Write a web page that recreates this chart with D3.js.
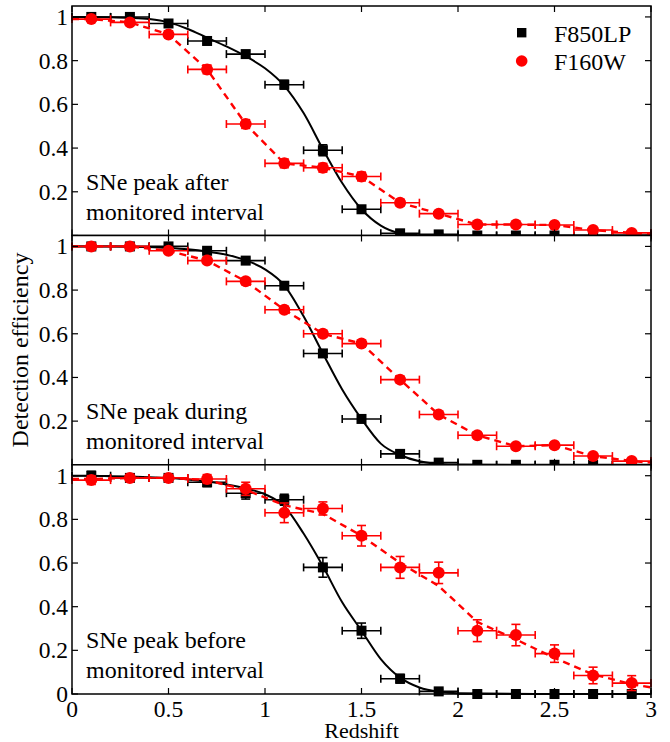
<!DOCTYPE html>
<html>
<head>
<meta charset="utf-8">
<script src="https://cdn.jsdelivr.net/npm/d3@7/dist/d3.min.js"></script>
<style>
  html, body { margin: 0; padding: 0; background: #fff; }
  svg { display: block; }
  svg text { font-family: "Liberation Serif", "Times New Roman", Tinos, serif; fill: #000; }
</style>
</head>
<body>
<div id="chart"></div>
<script>
// ---------------- data ----------------
const redshift = [0.1, 0.3, 0.5, 0.7, 0.9, 1.1, 1.3, 1.5, 1.7, 1.9, 2.1, 2.3, 2.5, 2.7, 2.9];
const binHalfWidth = 0.1;

const panelLabels = [
  ["SNe peak after", "monitored interval"],
  ["SNe peak during", "monitored interval"],
  ["SNe peak before", "monitored interval"]
];
const seriesNames = ["F850LP", "F160W"];

// Panel 1: SNe peak after monitored interval
const f850After    = [1.00, 1.00, 0.97, 0.89, 0.83, 0.69, 0.39, 0.12, 0.01, 0.005, 0, 0, 0, 0, 0];
const f850AfterErr = [0.01, 0.01, 0.012, 0.012, 0.015, 0.02, 0.025, 0.015, 0.01, 0.005, 0.003, 0.003, 0.003, 0.003, 0.003];
const f160After    = [0.99, 0.975, 0.92, 0.76, 0.51, 0.33, 0.31, 0.27, 0.15, 0.10, 0.05, 0.05, 0.048, 0.025, 0.012];
const f160AfterErr = [0.01, 0.012, 0.015, 0.02, 0.02, 0.02, 0.02, 0.02, 0.015, 0.012, 0.01, 0.01, 0.01, 0.008, 0.006];

// Panel 2: SNe peak during monitored interval
const f850During    = [1.00, 1.00, 1.00, 0.98, 0.935, 0.82, 0.51, 0.21, 0.05, 0.01, 0, 0, 0, 0, 0];
const f850DuringErr = [0.005, 0.005, 0.008, 0.01, 0.012, 0.015, 0.015, 0.015, 0.01, 0.005, 0.003, 0.003, 0.003, 0.003, 0.003];
const f160During    = [1.00, 1.00, 0.98, 0.935, 0.84, 0.71, 0.60, 0.555, 0.39, 0.23, 0.135, 0.085, 0.09, 0.04, 0.017];
const f160DuringErr = [0.005, 0.005, 0.01, 0.012, 0.015, 0.015, 0.015, 0.015, 0.015, 0.012, 0.01, 0.01, 0.01, 0.008, 0.006];

// Panel 3: SNe peak before monitored interval
const f850Before    = [1.00, 0.99, 0.99, 0.97, 0.92, 0.89, 0.58, 0.29, 0.07, 0.012, 0, 0, 0, 0, 0];
const f850BeforeErr = [0.02, 0.01, 0.01, 0.02, 0.027, 0.025, 0.045, 0.035, 0.02, 0.01, 0.005, 0.005, 0.005, 0.005, 0.005];
const f160Before    = [0.98, 0.99, 0.99, 0.985, 0.94, 0.83, 0.85, 0.725, 0.58, 0.555, 0.29, 0.27, 0.185, 0.085, 0.05];
const f160BeforeErr = [0.02, 0.015, 0.015, 0.02, 0.03, 0.045, 0.03, 0.047, 0.05, 0.049, 0.05, 0.049, 0.04, 0.038, 0.034];

// Fitted F850LP curves
const fitRedshift = [0, 0.1, 0.2, 0.3, 0.4, 0.5, 0.6, 0.7, 0.8, 0.9, 1.0, 1.1, 1.2, 1.3, 1.4, 1.5, 1.6, 1.7, 1.8, 1.9, 2.0, 2.5, 3.0];
const fit850After  = [1.0, 1.0, 0.999, 0.996, 0.99, 0.975, 0.945, 0.905, 0.865, 0.82, 0.765, 0.685, 0.56, 0.395, 0.24, 0.12, 0.045, 0.01, 0.001, 0, 0, 0, 0];
const fit850During = [1.0, 1.0, 1.0, 0.999, 0.997, 0.993, 0.987, 0.977, 0.962, 0.937, 0.895, 0.822, 0.68, 0.51, 0.345, 0.21, 0.097, 0.045, 0.016, 0.004, 0.001, 0, 0];
const fit850Before = [1.0, 1.0, 0.998, 0.996, 0.993, 0.989, 0.983, 0.973, 0.96, 0.942, 0.915, 0.86, 0.735, 0.585, 0.42, 0.29, 0.16, 0.075, 0.03, 0.01, 0.003, 0, 0];

// Dashed F160W lines
const lineRedshift = [0, 0.1, 0.3, 0.5, 0.7, 0.9, 1.1, 1.3, 1.5, 1.7, 1.9, 2.1, 2.3, 2.5, 2.7, 2.9, 3.0];
const line160After  = [0.99, 0.99, 0.975, 0.92, 0.76, 0.51, 0.33, 0.31, 0.27, 0.15, 0.10, 0.05, 0.05, 0.048, 0.025, 0.012, 0.005];
const line160During = [1.0, 1.0, 1.0, 0.98, 0.935, 0.84, 0.71, 0.60, 0.555, 0.39, 0.23, 0.135, 0.085, 0.09, 0.04, 0.017, 0.01];
const line160Before = [0.985, 0.985, 0.99, 0.99, 0.98, 0.935, 0.865, 0.825, 0.725, 0.60, 0.495, 0.33, 0.25, 0.165, 0.09, 0.045, 0.03];

const xTicks = [0, 0.5, 1, 1.5, 2, 2.5, 3];
const xTickLabels = ["0", "0.5", "1", "1.5", "2", "2.5", "3"];
const yTicks = [0, 0.2, 0.4, 0.6, 0.8, 1.0];
const yTickLabels = ["0", "0.2", "0.4", "0.6", "0.8", "1"];

const panels = [
  { black: f850After,  blackErr: f850AfterErr,  red: f160After,  redErr: f160AfterErr,  fit: fit850After,  line: line160After,  label: panelLabels[0] },
  { black: f850During, blackErr: f850DuringErr, red: f160During, redErr: f160DuringErr, fit: fit850During, line: line160During, label: panelLabels[1] },
  { black: f850Before, blackErr: f850BeforeErr, red: f160Before, redErr: f160BeforeErr, fit: fit850Before, line: line160Before, label: panelLabels[2] }
];

// ---------------- layout ----------------
const W = 670, H = 742;
const left = 72, right = 651;
const panelTops = [6, 235.5, 464.8];
const panelBottoms = [235.5, 464.8, 694];
const TICKFONT = 23.5;
const LABELFONT = 24;

const svg = d3.select("#chart").append("svg").attr("width", W).attr("height", H);
svg.append("rect").attr("width", W).attr("height", H).attr("fill", "#fff");

const x = d3.scaleLinear().domain([0, 3]).range([left, right]);

panels.forEach((p, i) => {
  const y = d3.scaleLinear().domain([0, 1.05]).range([panelBottoms[i], panelTops[i]]);
  const g = svg.append("g");
  g.append("rect").attr("x", left).attr("y", panelTops[i])
    .attr("width", right - left).attr("height", panelBottoms[i] - panelTops[i]).attr("fill", "#fff");

  const drawErr = (vals, errs, color) => {
    const eg = g.append("g").attr("stroke", color).attr("stroke-width", 1.6).attr("fill", "none");
    redshift.forEach((z, k) => {
      const cx = x(z), cy = y(vals[k]);
      const x0 = x(z - binHalfWidth), x1 = x(z + binHalfWidth);
      eg.append("line").attr("x1", x0).attr("x2", x1).attr("y1", cy).attr("y2", cy);
      eg.append("line").attr("x1", x0).attr("x2", x0).attr("y1", cy - 4).attr("y2", cy + 4);
      eg.append("line").attr("x1", x1).attr("x2", x1).attr("y1", cy - 4).attr("y2", cy + 4);
      const yt = y(vals[k] + errs[k]), yb = y(vals[k] - errs[k]);
      eg.append("line").attr("x1", cx).attr("x2", cx).attr("y1", yt).attr("y2", yb);
      eg.append("line").attr("x1", cx - 4.5).attr("x2", cx + 4.5).attr("y1", yt).attr("y2", yt);
      eg.append("line").attr("x1", cx - 4.5).attr("x2", cx + 4.5).attr("y1", yb).attr("y2", yb);
    });
  };

  drawErr(p.black, p.blackErr, "#000");
  g.append("g").selectAll("rect").data(redshift).join("rect")
    .attr("x", z => x(z) - 5).attr("y", (z, k) => y(p.black[k]) - 5)
    .attr("width", 10).attr("height", 10).attr("fill", "#000");

  const fitLine = d3.line().x((d, k) => x(fitRedshift[k])).y(d => y(d)).curve(d3.curveMonotoneX);
  g.append("path").datum(p.fit).attr("d", fitLine)
    .attr("fill", "none").attr("stroke", "#000").attr("stroke-width", 2);

  drawErr(p.red, p.redErr, "#ff0000");
  g.append("g").selectAll("circle").data(redshift).join("circle")
    .attr("cx", z => x(z)).attr("cy", (z, k) => y(p.red[k])).attr("r", 6).attr("fill", "#ff0000");

  const dashLine = d3.line().x((d, k) => x(lineRedshift[k])).y(d => y(d));
  g.append("path").datum(p.line).attr("d", dashLine)
    .attr("fill", "none").attr("stroke", "#ff0000").attr("stroke-width", 2.4)
    .attr("stroke-dasharray", "7,5");

  // Frame
  g.append("rect").attr("x", left).attr("y", panelTops[i])
    .attr("width", right - left).attr("height", panelBottoms[i] - panelTops[i])
    .attr("fill", "none").attr("stroke", "#000").attr("stroke-width", 1.5);

  // Ticks (inward, all four sides)
  const tg = g.append("g").attr("stroke", "#000").attr("stroke-width", 1.2);
  const tl = 6;
  xTicks.forEach(t => {
    tg.append("line").attr("x1", x(t)).attr("x2", x(t)).attr("y1", panelBottoms[i]).attr("y2", panelBottoms[i] - tl);
    tg.append("line").attr("x1", x(t)).attr("x2", x(t)).attr("y1", panelTops[i]).attr("y2", panelTops[i] + tl);
  });
  yTicks.forEach(t => {
    tg.append("line").attr("x1", left).attr("x2", left + tl).attr("y1", y(t)).attr("y2", y(t));
    tg.append("line").attr("x1", right).attr("x2", right - tl).attr("y1", y(t)).attr("y2", y(t));
  });

  // Y tick labels
  yTicks.forEach((t, k) => {
    if (i < 2 && t === 0) return;
    g.append("text").attr("x", 68).attr("y", y(t)).attr("dy", "0.34em")
      .attr("text-anchor", "end").attr("font-size", TICKFONT).text(yTickLabels[k]);
  });

  // Panel annotation
  const baseY = y(0.21);
  p.label.forEach((s, k) => {
    g.append("text").attr("x", 86).attr("y", baseY + k * 30)
      .attr("font-size", LABELFONT).text(s);
  });

  // Legend (top panel)
  if (i === 0) {
    const lg = g.append("g");
    lg.append("rect").attr("x", 521.7 - 4.7).attr("y", 32.7 - 4.7).attr("width", 9.4).attr("height", 9.4).attr("fill", "#000");
    lg.append("circle").attr("cx", 521.7).attr("cy", 61).attr("r", 5.8).attr("fill", "#ff0000");
    lg.append("text").attr("x", 554).attr("y", 41.5).attr("font-size", LABELFONT).text(seriesNames[0]);
    lg.append("text").attr("x", 554).attr("y", 69.5).attr("font-size", LABELFONT).text(seriesNames[1]);
  }
});

// X tick labels
xTicks.forEach((t, k) => {
  svg.append("text").attr("x", x(t)).attr("y", 716.5).attr("text-anchor", "middle")
    .attr("font-size", TICKFONT).text(xTickLabels[k]);
});

// Axis titles
svg.append("text").attr("x", (left + right) / 2).attr("y", 738).attr("text-anchor", "middle")
  .attr("font-size", 22).text("Redshift");
svg.append("text").attr("transform", "translate(28,350) rotate(-90)").attr("text-anchor", "middle")
  .attr("font-size", LABELFONT).text("Detection efficiency");
</script>
</body>
</html>
